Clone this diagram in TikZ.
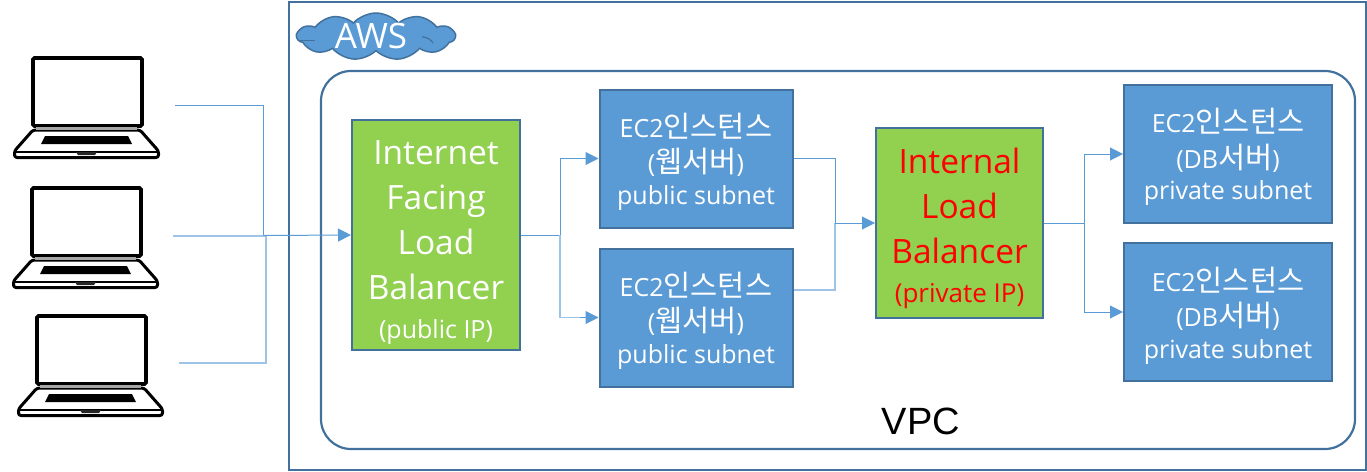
\documentclass[tikz,border=0pt]{standalone}
\usepackage{fontspec}
\setmainfont{Open Sans}
\newfontfamily\krf{Noto Sans CJK KR}[Scale=1.18]
\newfontfamily\vpcf{Liberation Sans}
\usetikzlibrary{arrows.meta,shapes.symbols}
\definecolor{boxblue}{HTML}{5B9BD5}
\definecolor{edgeblue}{HTML}{41719C}
\definecolor{lightline}{HTML}{9DC3E6}
\definecolor{lbgreen}{HTML}{92D050}
\newcommand{\fsz}[2]{\fontsize{#1}{#2}\selectfont}
\newcommand{\ecbody}[2]{\rule{0pt}{31pt}EC2{\krf 인스턴스}\\(#1)\\[-3pt]#2}
\tikzset{
  x=1pt,y=-1pt,
  outerframe/.style={draw=edgeblue,line width=2.5pt,fill=none},
  vpcframe/.style={draw=edgeblue,line width=2.2pt,rounded corners=30pt,fill=none},
  ecbox/.style={draw=edgeblue,line width=2pt,fill=boxblue,text=white,align=center,inner sep=0pt,minimum width=193pt,minimum height=138pt,font=\fsz{25}{35}},
  dbbox/.style={ecbox,minimum width=208pt},
  lbbox/.style={draw=edgeblue,line width=2pt,fill=lbgreen,align=center,inner sep=0pt,font=\fsz{33.5}{45}},
  conn/.style={draw=boxblue,line width=1pt},
  connl/.style={draw=lightline,line width=1.5pt},
  tip/.style={-{Triangle[length=13pt,width=13pt,fill=boxblue,color=boxblue]}},
  cloudn/.style={cloud,cloud puffs=11,cloud puff arc=95,aspect=3.4,draw=edgeblue,line width=1.5pt,fill=boxblue,inner sep=0pt,minimum width=158pt,minimum height=47pt},
  laptop/.pic={
    \draw[black,line width=3.6pt,fill=white,rounded corners=1.5pt] (33,58) rectangle (142,126);
    \draw[black,line width=3pt,fill=white,rounded corners=2.5pt,line join=round] (33,130) -- (14.5,151) -- (14.5,157.5) -- (158.5,157.5) -- (158.5,151) -- (140,130) -- cycle;
    \draw[gray!70,line width=3pt] (36,128.5) -- (137,128.5);
    \draw[black,line width=1.5pt] (15,152) -- (158,152);
    \fill[black] (45,136) -- (128,136) -- (132,144) -- (41,144) -- cycle;
    \fill[gray!30!black] (76,152) -- (97,152) -- (95,155) -- (78,155) -- cycle;
  },
}
\begin{document}
\begin{tikzpicture}
\useasboundingbox (0,0) rectangle (1367,471);
\path[outerframe] (289,2) rectangle (1366,470);
\path[vpcframe] (321,71) rectangle (1355,449);
\node[cloudn] (cloudaws) at (376,36.5) {};
\draw[edgeblue,line width=1.2pt] (300,40.7) -- (315,40.7);
\draw[edgeblue,line width=1.2pt] (422,36.7) .. controls (428,37.5) and (431,40) .. (433,43);
\node[text=white,font=\fsz{35}{38}] (awslabel) at (371,36) {AWS};
\node[font={\vpcf\fsz{38}{42}}] (vpclabel) at (921,421) {VPC};

\pic at (0,0) {laptop};
\pic at (-1,130) {laptop};
\pic at (4,258) {laptop};
\coordinate (lap1) at (175,105);
\coordinate (lap2) at (173,236);
\coordinate (lap3) at (179,363);

\node[lbbox,minimum width=168pt,minimum height=230pt,text=white] (lb1) at (436,235)
  {\rule{0pt}{38pt}Internet\\Facing\\Load\\Balancer\\[-6pt]\fsz{25}{30}(public IP)};
\node[lbbox,minimum width=167pt,minimum height=190pt,text=red] (lb2) at (959.5,223)
  {\rule{0pt}{36pt}Internal\\Load\\Balancer\\[-6pt]\fsz{26}{30}(private IP)};
\node[ecbox] (eca) at (696,158.5) {\ecbody{{\krf 웹서버}}{public subnet}};
\node[ecbox] (ecb) at (696,317.5) {\ecbody{{\krf 웹서버}}{public subnet}};
\node[dbbox] (dba) at (1228,154) {\ecbody{DB{\krf 서버}}{private subnet}};
\node[dbbox] (dbb) at (1228,312) {\ecbody{DB{\krf 서버}}{private subnet}};

\draw[conn] (lap1) -- (263.5,105) -- (263.5,235) -- (300,235);
\draw[connl] (lap3) -- (266,363) -- (266,236);
\draw[connl] (lap2) -- (266,236);
\draw[conn,tip] (263.5,235.5) -- (lb1.west);

\draw[conn] (lb1.east) -- (560,235);
\draw[connl] (560,235) -- (560,317.5);
\draw[conn,tip] (560,235) |- (eca.west);
\draw[connl] (560,317.5) -- (590,317.5);
\draw[conn,tip] (580,317.5) -- (ecb.west);

\draw[conn] (eca.east) -- (835,158.5) -- (835,223);
\draw[connl] ([yshift=27.5pt]ecb.east) -- (835,290) -- (835,223);
\draw[conn,tip] (835,223) -- (lb2.west);

\draw[conn] (lb2.east) -- (1084,223);
\draw[conn,tip] (1084,223) |- (dba.west);
\draw[conn,tip] (1084,223) |- (dbb.west);
\end{tikzpicture}
\end{document}
